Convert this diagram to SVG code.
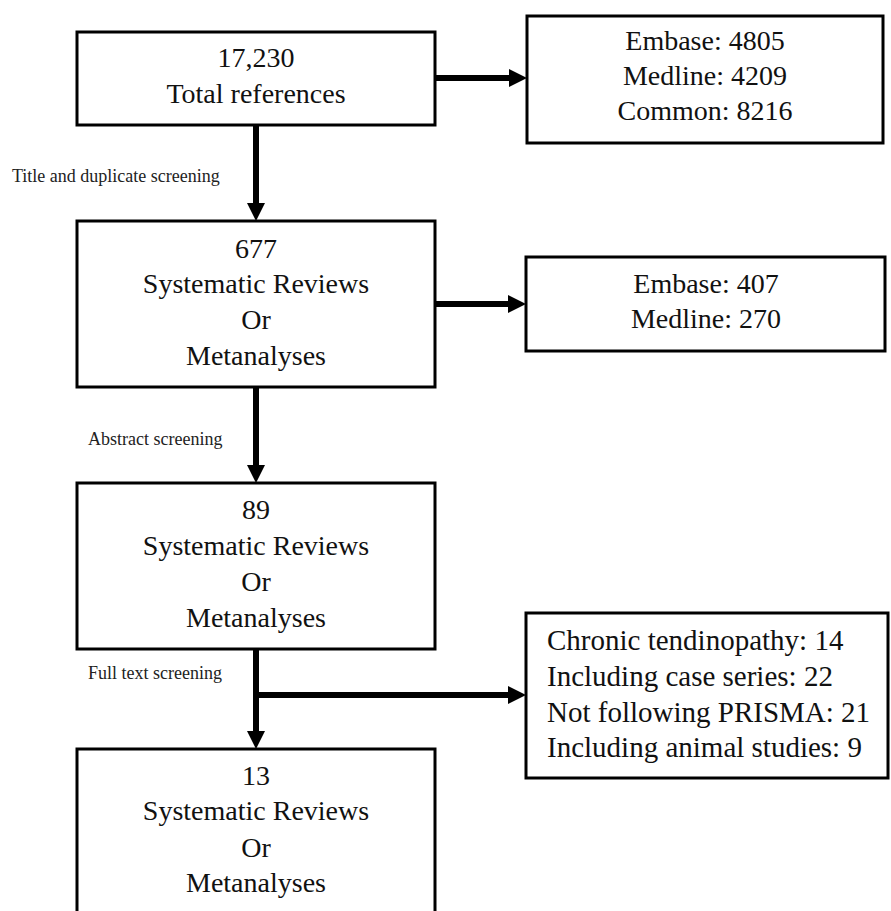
<svg xmlns="http://www.w3.org/2000/svg" width="891" height="911" viewBox="0 0 891 911">
<style>
.box{fill:#fff;stroke:#000;stroke-width:3}
.t{font-family:"Liberation Serif","Times New Roman",serif;font-size:28px;fill:#111;text-anchor:middle}
.tl{font-family:"Liberation Serif","Times New Roman",serif;font-size:29px;fill:#111}
.lab{font-family:"Liberation Serif","Times New Roman",serif;font-size:18px;fill:#222}
.c{stroke:#000;stroke-width:6;fill:none}
</style>
<defs>
<marker id="ah" markerUnits="userSpaceOnUse" markerWidth="18" markerHeight="18" refX="0" refY="9" orient="auto">
<path d="M0,0 L18,9 L0,18 z" fill="#000"/>
</marker>
</defs>
<rect width="891" height="911" fill="#fff"/>
<g id="connectors">
<line class="c" x1="435" y1="78" x2="509" y2="78" marker-end="url(#ah)"/>
<line class="c" x1="256" y1="125" x2="256" y2="203" marker-end="url(#ah)"/>
<line class="c" x1="435" y1="304" x2="508" y2="304" marker-end="url(#ah)"/>
<line class="c" x1="256" y1="387" x2="256" y2="465" marker-end="url(#ah)"/>
<line class="c" x1="256" y1="649" x2="256" y2="731" marker-end="url(#ah)"/>
<line class="c" x1="253" y1="695" x2="508" y2="695" marker-end="url(#ah)"/>
<text class="lab" x="12" y="182">Title and duplicate screening</text>
<text class="lab" x="88" y="445">Abstract screening</text>
<text class="lab" x="88" y="679">Full text screening</text>
</g>
<g id="total">
<rect class="box" x="77" y="32" width="358" height="93"/>
<text class="t" x="256" y="67">17,230</text>
<text class="t" x="256" y="103">Total references</text>
</g>
<g id="sources1">
<rect class="box" x="527" y="16" width="356" height="127"/>
<text class="t" x="705" y="50">Embase: 4805</text>
<text class="t" x="705" y="85">Medline: 4209</text>
<text class="t" x="705" y="120">Common: 8216</text>
</g>
<g id="sr677">
<rect class="box" x="77" y="221" width="358" height="166"/>
<text class="t" x="256" y="258">677</text>
<text class="t" x="256" y="293">Systematic Reviews</text>
<text class="t" x="256" y="329">Or</text>
<text class="t" x="256" y="365">Metanalyses</text>
</g>
<g id="sources2">
<rect class="box" x="526" y="257" width="359" height="94"/>
<text class="t" x="706" y="293">Embase: 407</text>
<text class="t" x="706" y="328">Medline: 270</text>
</g>
<g id="sr89">
<rect class="box" x="77" y="483" width="358" height="166"/>
<text class="t" x="256" y="519">89</text>
<text class="t" x="256" y="555">Systematic Reviews</text>
<text class="t" x="256" y="591">Or</text>
<text class="t" x="256" y="627">Metanalyses</text>
</g>
<g id="exclusions">
<rect class="box" x="526" y="613" width="362" height="165"/>
<text class="tl" x="547" y="650">Chronic tendinopathy: 14</text>
<text class="tl" x="547" y="686">Including case series: 22</text>
<text class="tl" x="547" y="722">Not following PRISMA: 21</text>
<text class="tl" x="547" y="757">Including animal studies: 9</text>
</g>
<g id="sr13">
<rect class="box" x="77" y="749" width="358" height="180"/>
<text class="t" x="256" y="785">13</text>
<text class="t" x="256" y="820">Systematic Reviews</text>
<text class="t" x="256" y="857">Or</text>
<text class="t" x="256" y="892">Metanalyses</text>
</g>
</svg>
